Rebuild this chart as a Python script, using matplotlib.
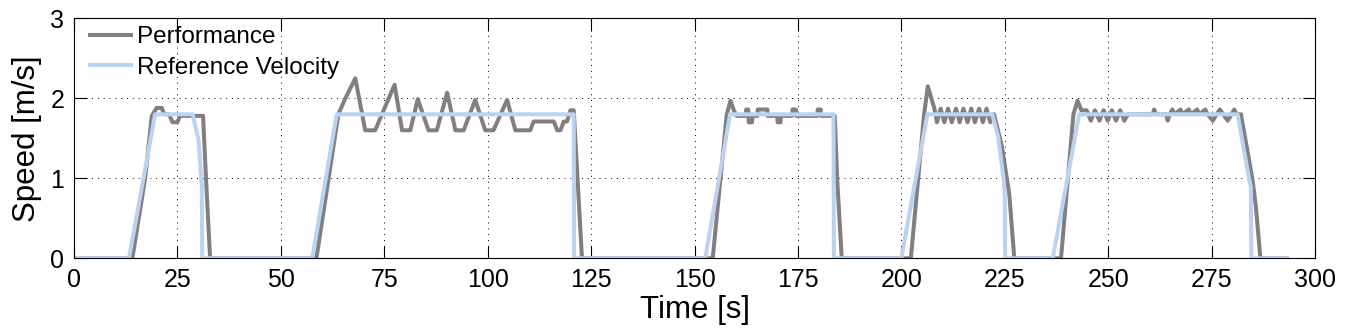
import numpy as np
import matplotlib
matplotlib.use("Agg")
import matplotlib.pyplot as plt

plt.rcParams["font.family"] = ["Liberation Sans", "DejaVu Sans"]

# reference velocity profile (time [s], speed [m/s])
ref_t = [0, 13.3, 19.6, 28.7, 30.1, 30.9, 31.0,
         57.6, 63.5, 120.8, 120.9,
         152.6, 158.6, 183.6, 183.7,
         200.0, 206.3, 222.0, 223.4, 224.7, 225.0, 225.1,
         236.6, 243.0, 281.3, 284.1, 284.5, 284.6, 293.2]
ref_v = [0, 0, 1.8, 1.8, 1.48, 0.9, 0,
         0, 1.8, 1.8, 0,
         0, 1.8, 1.8, 0,
         0, 1.8, 1.8, 1.52, 1.0, 0.8, 0,
         0, 1.8, 1.8, 0.98, 0.9, 0, 0]

# measured performance, one list per run
run1_t = [0, 14.1, 17.2, 18.8, 20.0, 21.2, 21.8, 23.0, 23.8, 25.0, 25.6, 31.2, 32.0, 32.9]
run1_v = [0, 0, 1.0, 1.78, 1.88, 1.88, 1.8, 1.8, 1.7, 1.7, 1.78, 1.78, 0.9, 0]

run2_t = [58.6, 63.9, 65.6, 68.0, 70.4, 72.8, 77.5, 79.3, 81.3, 83.1, 85.7, 87.7,
          90.2, 92.2, 94.2, 97.0, 99.4, 101.4, 104.7, 106.7, 110.3, 111.1, 116.0,
          116.8, 117.6, 118.4, 119.2, 120.0, 120.8, 122.8]
run2_v = [0, 1.8, 2.0, 2.25, 1.6, 1.6, 2.17, 1.6, 1.6, 1.99, 1.6, 1.6,
          2.07, 1.6, 1.6, 1.98, 1.6, 1.6, 1.98, 1.6, 1.6, 1.71, 1.71,
          1.6, 1.6, 1.71, 1.71, 1.85, 1.85, 0]

run3_t = [154.4, 157.8, 158.7, 159.5, 160.2, 162.4, 162.5, 163.0, 163.1, 163.9, 164.0,
          165.2, 165.3, 167.6, 167.7, 170.0, 170.1, 170.8, 170.9, 173.6, 173.7, 174.5,
          174.6, 179.7, 179.8, 180.5, 180.6, 183.9, 184.5, 185.6]
run3_v = [0, 1.8, 1.97, 1.85, 1.78, 1.78, 1.86, 1.86, 1.70, 1.70, 1.78,
          1.78, 1.86, 1.86, 1.78, 1.78, 1.70, 1.70, 1.78, 1.78, 1.86, 1.86,
          1.78, 1.78, 1.86, 1.86, 1.78, 1.78, 0.98, 0]

run4_t = [202.3, 205.5, 206.4, 208.0, 208.6, 209.5, 210.4, 211.3, 212.2, 213.2, 214.1,
          215.0, 216.0, 216.9, 217.8, 218.8, 219.7, 220.6, 221.5, 222.4, 224.3,
          226.1, 227.3]
run4_v = [0, 1.8, 2.15, 1.87, 1.70, 1.87, 1.70, 1.87, 1.70, 1.87, 1.70,
          1.87, 1.70, 1.87, 1.70, 1.87, 1.70, 1.87, 1.70, 1.8, 1.4,
          0.8, 0]

run5_t = [238.6, 241.6, 242.6, 243.5, 244.8, 245.8, 246.8, 247.9, 248.9, 249.9, 250.9,
          251.9, 252.9, 253.9, 254.8, 260.8, 261.1, 261.6, 264.0, 264.4, 264.9, 265.5,
          266.0, 267.5, 268.0, 269.5, 270.0, 271.5, 272.0, 273.5, 274.0, 275.3, 276.2,
          277.0, 277.8, 278.9, 279.8, 280.5, 281.0, 282.1, 284.9, 285.7, 286.8, 293.2]
run5_v = [0, 1.8, 1.97, 1.85, 1.85, 1.72, 1.85, 1.72, 1.85, 1.72, 1.85,
          1.72, 1.85, 1.72, 1.8, 1.8, 1.86, 1.8, 1.8, 1.72, 1.8, 1.86,
          1.8, 1.86, 1.8, 1.86, 1.8, 1.86, 1.8, 1.86, 1.8, 1.72, 1.8,
          1.86, 1.8, 1.72, 1.8, 1.86, 1.8, 1.8, 0.98, 0.65, 0, 0]

perf_t = run1_t + run2_t + run3_t + run4_t + run5_t
perf_v = run1_v + run2_v + run3_v + run4_v + run5_v

fig = plt.figure(figsize=(13.51, 3.29), dpi=100)
ax = fig.add_axes([74 / 1351, 70.7 / 329, 1241 / 1351, 240 / 329])

ax.plot(perf_t, perf_v, color="#808080", lw=2.9, label="Performance")
ax.plot(ref_t, ref_v, color="#b9d3f0", lw=2.9, label="Reference Velocity")

ax.set_xlim(0, 300)
ax.set_ylim(0, 3)
ax.set_xticks(np.arange(0, 301, 25))
ax.set_yticks([0, 1, 2, 3])

ax.grid(True, color="black", lw=0.7, linestyle=(0, (1, 5)))
ax.tick_params(direction="in", length=9, width=0.8, top=True, right=True,
               labelsize=18, pad=7)
for s in ax.spines.values():
    s.set_linewidth(0.8)

ax.set_xlabel("Time [s]", fontsize=22.5, labelpad=2)
ax.set_ylabel("Speed [m/s]", fontsize=22.5, labelpad=6)

ax.legend(loc="upper left", bbox_to_anchor=(16 / 1241, 1 - 8 / 240),
          frameon=False, fontsize=17.5, handlelength=1.7, handletextpad=0.25,
          borderpad=0, borderaxespad=0, labelspacing=0.35)

fig.savefig("out.png", dpi=100)
